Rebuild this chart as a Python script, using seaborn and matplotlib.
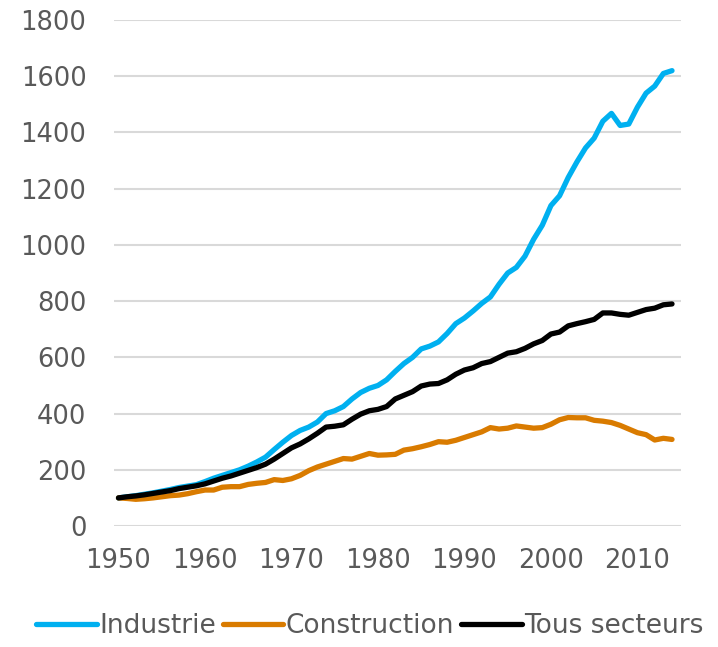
import numpy as np
import pandas as pd
import matplotlib
matplotlib.use("Agg")
import matplotlib.pyplot as plt
import seaborn as sns

years = list(range(1950, 2015))

industrie = [100, 104, 108, 113, 118, 124, 130, 137, 142, 147,
             158, 170, 180, 190, 200, 213, 228, 245, 272, 298,
             322, 340, 352, 370, 400, 410, 425, 452, 475, 490,
             500, 520, 550, 578, 600, 630, 640, 655, 685, 720,
             740, 765, 792, 815, 860, 900, 920, 960, 1020, 1070,
             1140, 1175, 1240, 1295, 1345, 1380, 1440, 1468, 1425, 1430,
             1490, 1540, 1565, 1610, 1620]

construction = [100, 98, 95, 97, 100, 104, 108, 110, 115, 122,
                128, 128, 138, 140, 140, 148, 152, 155, 165, 162,
                168, 180, 197, 210, 220, 230, 240, 238, 248, 258,
                252, 253, 255, 270, 275, 282, 290, 300, 298, 305,
                315, 325, 335, 350, 345, 348, 356, 352, 348, 350,
                362, 378, 386, 385, 385, 376, 373, 368, 358, 345,
                332, 325, 306, 312, 308]

tous_secteurs = [100, 104, 107, 111, 116, 121, 126, 133, 138, 143,
                 150, 160, 170, 178, 188, 198, 208, 220, 238, 258,
                 278, 292, 310, 330, 352, 355, 360, 380, 398, 410,
                 415, 425, 452, 465, 478, 498, 505, 507, 520, 540,
                 555, 563, 578, 585, 600, 615, 620, 632, 648, 660,
                 683, 690, 712, 720, 727, 735, 758, 758, 753, 750,
                 760, 770, 775, 787, 790]

series_names = ["Industrie", "Construction", "Tous secteurs"]
colors = ["#00B0F0", "#D97B00", "#000000"]

df = pd.DataFrame({"annee": years, "Industrie": industrie,
                   "Construction": construction, "Tous secteurs": tous_secteurs})
long_df = df.melt(id_vars="annee", var_name="serie", value_name="indice")

sns.set_style("white")
plt.rcParams["font.family"] = ["DejaVu Sans"]

fig = plt.figure(figsize=(7.18, 6.47), dpi=100)
ax = fig.add_axes([0.159, 0.187, 0.789, 0.782])

sns.lineplot(data=long_df, x="annee", y="indice", hue="serie",
             hue_order=series_names, palette=colors, linewidth=3.8,
             solid_capstyle="round", ax=ax)

ax.set_ylim(0, 1800)
ax.set_xlim(1949.5, 2015)
ax.set_yticks(range(0, 1801, 200))
ax.set_xticks(range(1950, 2011, 10))
ax.yaxis.grid(True, color="#d9d9d9", linewidth=1.5)
ax.set_axisbelow(True)
for s in ax.spines.values():
    s.set_visible(False)
ax.tick_params(axis="both", length=0, labelsize=18.5, labelcolor="#595959")
ax.tick_params(axis="x", pad=16)
ax.tick_params(axis="y", pad=20)
ax.set_xlabel("")
ax.set_ylabel("")

handles, labels = ax.get_legend_handles_labels()
ax.legend_.remove()
fig.legend(handles, labels, loc="lower center", bbox_to_anchor=(0.515, -0.025),
           ncol=3, frameon=False, fontsize=19, labelcolor="#595959",
           handlelength=2.3, handletextpad=0.1, columnspacing=0.25)

fig.savefig("out.png", dpi=100)
